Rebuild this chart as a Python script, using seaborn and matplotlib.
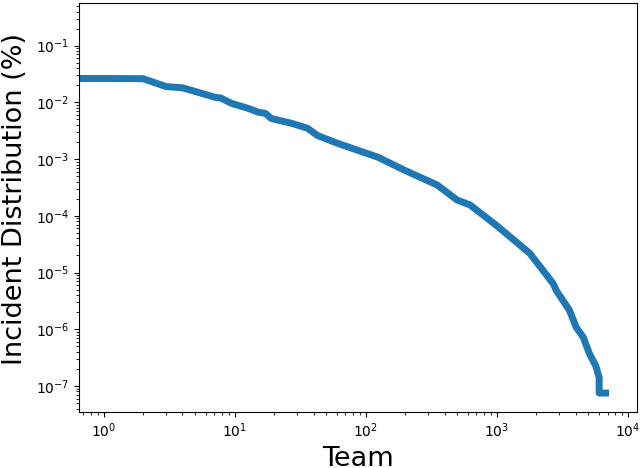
import numpy as np
import pandas as pd
import matplotlib
matplotlib.use("Agg")
import matplotlib.pyplot as plt
import seaborn as sns

# Rank of team (log axis) and share of incidents
team_rank = [0.6, 1, 2, 3, 4, 5.3, 7.2, 7.8, 9.5, 12.8, 15.2, 17.2, 19, 27, 36, 43,
             61, 124, 197, 351, 498, 624, 1000, 1780, 2690, 2850, 3570, 4040,
             4570, 5070, 5720, 6040, 6040, 6760]
incident_pct = [0.0264, 0.0264, 0.0262, 0.019, 0.0181, 0.015, 0.0122, 0.012, 0.0096,
                0.0078, 0.0067, 0.0064, 0.0052, 0.0043, 0.0035, 0.0026,
                0.0019, 0.00108, 6.4e-4, 3.5e-4, 1.9e-4, 1.56e-4, 6.7e-5, 2.2e-5,
                6.4e-6, 4.8e-6, 2.2e-6, 1.08e-6, 7.2e-7, 3.8e-7, 2.2e-7, 1.4e-7,
                7.5e-8, 7.5e-8]

df = pd.DataFrame({"team": team_rank, "pct": incident_pct})

fig = plt.figure(figsize=(6.4, 4.68), dpi=100)
ax = fig.add_axes([0.123, 0.12, 0.872, 0.874])

sns.lineplot(data=df, x="team", y="pct", ax=ax, color="#1f77b4",
             linewidth=5, sort=False, estimator=None)

ax.set_xscale("log")
ax.set_yscale("log")
ax.set_xlim(0.647, 11700)
ax.set_ylim(3.5e-8, 0.57)

ax.set_xlabel("Team", fontsize=19.5, labelpad=4)
ax.set_ylabel("Incident Distribution (%)", fontsize=19.5)
ax.yaxis.set_label_coords(-0.090, 0.52)
ax.tick_params(axis="both", labelsize=10)

fig.savefig("out.png", dpi=100)
plt.close(fig)
